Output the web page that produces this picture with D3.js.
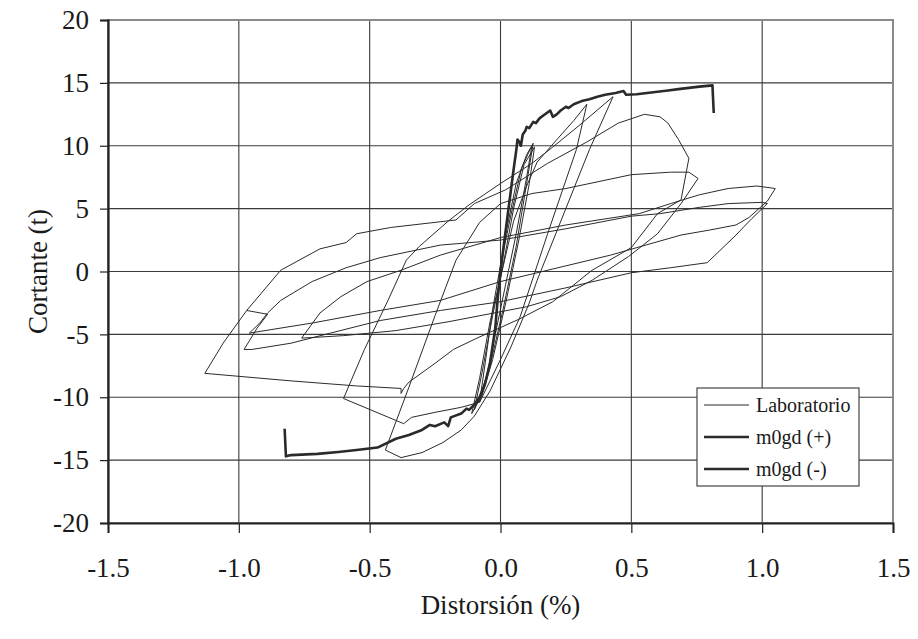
<!DOCTYPE html>
<html>
<head>
    <meta charset="utf-8">
    <title>Cortante vs Distorsión</title>
    <script src="https://d3js.org/d3.v7.min.js"></script>
</head>
<style>
    body {
        margin: 0;
        background: #fff;
    }

    svg {
        display: block;
    }

    text {
        font-family: "Liberation Serif", "Times New Roman", serif;
        fill: #1a1a1a;
    }
</style>
<body>
    <svg width="918" height="639"></svg>

    <script>
        // axis ticks
        const xTicks = [-1.5, -1.0, -0.5, 0.0, 0.5, 1.0, 1.5];
        const yTicks = [-20, -15, -10, -5, 0, 5, 10, 15, 20];

        // Laboratorio: [distorsion %, cortante t]
        const labData = [
            [0, 0], [0.02, 3], [0.06, 7], [0.1, 9.3], [0.12, 10], [0.1, 7.5], [0.06, 3], [0.02, -1],
            [-0.02, -5], [-0.06, -9], [-0.08, -10.4], [-0.06, -7.5], [-0.03, -3], [0, 0.5],
            [0.04, 4.5], [0.08, 8.2], [0.115, 9.8], [0.125, 10.2], [0.1, 7], [0.06, 2], [0.01, -3],
            [-0.04, -7.5], [-0.08, -10], [-0.1, -11], [-0.07, -8], [-0.03, -3.5], [0.01, 0.5],
            [0.05, 5], [0.09, 8.5], [0.13, 9.9], [0.11, 7], [0.07, 2.5], [0.02, -2.5], [-0.03, -7],
            [-0.07, -9.8], [-0.11, -11.3], [-0.08, -8.5], [-0.04, -4], [0, -0.5],
            [0.05, 4], [0.1, 6.8], [0.14, 8.7], [0.22, 10.6], [0.28, 12], [0.33, 13.3],
            [0.29, 9.7], [0.18, 3], [0.075, -3.6], [0, -7], [-0.08, -10.4], [-0.15, -10.8],
            [-0.25, -11.2], [-0.34, -11.6], [-0.37, -12.1], [-0.6, -10.1],
            [-0.52, -6.2], [-0.43, -2.3], [-0.36, 0.9], [-0.31, 2.0], [-0.2, 4.0], [-0.12, 5.3],
            [0, 7.0], [0.12, 8.6], [0.2, 9.9], [0.3, 11.6], [0.43, 13.9],
            [0.34, 9.7], [0.24, 4.5], [0.14, -0.7], [0.11, -2.5], [0.04, -6], [-0.04, -9.5],
            [-0.1, -11.5], [-0.15, -12.6], [-0.22, -13.6], [-0.3, -14.4], [-0.38, -14.8], [-0.44, -14.2],
            [-0.35, -9.2], [-0.25, -3.5], [-0.17, 0.9], [-0.08, 3.9], [0, 5.4], [0.12, 6.2],
            [0.25, 6.6], [0.5, 7.7], [0.65, 7.9], [0.72, 7.9], [0.755, 7.4],
            [0.69, 5.4], [0.6, 3.0], [0.49, 1.2], [0.35, -0.7], [0.23, -2.0], [0.1, -2.8], [0, -3.2],
            [-0.2, -4.0], [-0.4, -4.7], [-0.6, -5.1], [-0.76, -5.3],
            [-0.69, -3.3], [-0.61, -2.0], [-0.51, -0.8], [-0.38, 0.1], [-0.23, 1.3], [0, 2.7],
            [0.25, 3.7], [0.53, 4.6], [0.65, 5.4], [0.76, 6.1], [0.87, 6.6], [0.98, 6.8], [1.05, 6.6],
            [1.02, 5.6], [0.95, 4.3], [0.9, 3.7], [0.8, 3.3], [0.69, 2.9], [0.42, 1.3], [0.2, 0.2],
            [0, -0.8], [-0.23, -2.3], [-0.46, -3.1], [-0.72, -4.1], [-0.96, -4.9],
            [-0.92, -4.1], [-0.89, -3.3], [-0.84, -2.3], [-0.72, -0.8], [-0.59, 0.3], [-0.46, 1.1],
            [-0.23, 2.1], [0, 2.5], [0.25, 3.4], [0.5, 4.4], [0.61, 4.6], [0.76, 5.1], [0.87, 5.4],
            [1.0, 5.5], [1.02, 5.4],
            [0.96, 4.2], [0.9, 2.9], [0.79, 0.7], [0.65, 0.3], [0.5, -0.1], [0.25, -1.3], [0, -2.4],
            [-0.23, -3.1], [-0.46, -3.9], [-0.65, -4.9], [-0.8, -5.7], [-0.95, -6.2], [-0.98, -6.2],
            [-0.93, -4.5], [-0.89, -3.4], [-0.97, -3.1],
            [-1.06, -5.7], [-1.13, -8.1], [-0.8, -8.7], [-0.55, -9.1], [-0.38, -9.3], [-0.38, -9.7],
            [-0.37, -9.3], [-0.35, -8.8], [-0.25, -7.3], [-0.18, -6.2], [-0.09, -5.3], [0.07, -3.8],
            [0.2, -2.4], [0.35, 0.1], [0.5, 1.9], [0.6, 4.6], [0.69, 5.7], [0.72, 9], [0.68, 10.5],
            [0.64, 11.8], [0.61, 12.3], [0.55, 12.5], [0.45, 11.8], [0.33, 10.3], [0.18, 8.6],
            [0.02, 6.5], [-0.1, 5.4], [-0.17, 4.1], [-0.42, 3.5], [-0.55, 3.0], [-0.59, 2.3],
            [-0.69, 1.8], [-0.84, 0.1], [-0.97, -3.1]
        ];

        // m0gd (+)
        const mPos = [
            [0, 0], [0.012, 2], [0.025, 4.1], [0.04, 6.5], [0.05, 8.1], [0.06, 9.6], [0.065, 10.5],
            [0.072, 10.3], [0.078, 10.0], [0.085, 10.9], [0.095, 11.2], [0.1, 11.5], [0.11, 11.4],
            [0.125, 11.9], [0.135, 11.8], [0.15, 12.2], [0.17, 12.5], [0.19, 12.8], [0.2, 12.3],
            [0.215, 12.5], [0.23, 12.8], [0.25, 13.1], [0.26, 13.0], [0.28, 13.3], [0.31, 13.55],
            [0.34, 13.7], [0.37, 13.9], [0.4, 14.05], [0.44, 14.2], [0.47, 14.35], [0.48, 14.05],
            [0.52, 14.1], [0.56, 14.2], [0.6, 14.3], [0.64, 14.4], [0.68, 14.5], [0.72, 14.6],
            [0.76, 14.7], [0.81, 14.8], [0.815, 12.6]
        ];

        // m0gd (-)
        const mNeg = [
            [0, 0], [-0.01, -2], [-0.02, -4.5], [-0.04, -7.3], [-0.06, -9], [-0.08, -10],
            [-0.1, -10.6], [-0.12, -11], [-0.13, -10.9], [-0.15, -11.3], [-0.19, -11.6],
            [-0.2, -12.3], [-0.215, -12.0], [-0.25, -12.3], [-0.27, -12.2], [-0.3, -12.6],
            [-0.35, -13.0], [-0.4, -13.3], [-0.47, -14.0], [-0.55, -14.2], [-0.62, -14.35],
            [-0.7, -14.5], [-0.8, -14.6], [-0.82, -14.7], [-0.825, -12.5]
        ];

        const legendItems = [
            { label: "Laboratorio", width: 1 },
            { label: "m0gd (+)", width: 2.6 },
            { label: "m0gd (-)", width: 2.6 }
        ];

        const margin = { top: 20, right: 25, bottom: 116, left: 108 };
        const width = 918 - margin.left - margin.right;
        const height = 639 - margin.top - margin.bottom;

        const svg = d3.select("svg")
            .append("g")
            .attr("transform", `translate(${margin.left},${margin.top})`);

        const xScale = d3.scaleLinear().domain([-1.5, 1.5]).range([0, width]);
        const yScale = d3.scaleLinear().domain([-20, 20]).range([height, 0]);

        // grid
        svg.append("g")
            .selectAll("line")
            .data(xTicks)
            .enter()
            .append("line")
            .attr("x1", d => xScale(d)).attr("x2", d => xScale(d))
            .attr("y1", 0).attr("y2", height)
            .attr("stroke", "#3a3a3a").attr("stroke-width", 1.1);

        svg.append("g")
            .selectAll("line")
            .data(yTicks)
            .enter()
            .append("line")
            .attr("x1", 0).attr("x2", width)
            .attr("y1", d => yScale(d)).attr("y2", d => yScale(d))
            .attr("stroke", "#3a3a3a").attr("stroke-width", 1.1);

        // plot border
        svg.append("rect")
            .attr("width", width).attr("height", height)
            .attr("fill", "none")
            .attr("stroke", "#8a8a8a").attr("stroke-width", 2);

        // axes (plain hyphen for negatives, like the original)
        const xAxis = d3.axisBottom(xScale)
            .tickValues(xTicks)
            .tickSize(10)
            .tickFormat(d => d.toFixed(1));
        const gx = svg.append("g")
            .attr("transform", `translate(0,${height})`)
            .call(xAxis);
        gx.select(".domain").attr("stroke", "#222").attr("stroke-width", 2);
        gx.selectAll(".tick line").attr("stroke", "#222").attr("stroke-width", 1.2);
        gx.selectAll(".tick text")
            .attr("y", 54)
            .attr("dy", 0)
            .style("font-size", "27px")
            .style("font-family", "'Liberation Serif', serif")
            .attr("fill", "#1a1a1a");

        const yAxis = d3.axisLeft(yScale)
            .tickValues(yTicks)
            .tickSize(8)
            .tickFormat(d => String(d));
        const gy = svg.append("g").call(yAxis);
        gy.select(".domain").attr("stroke", "#222").attr("stroke-width", 2.2);
        gy.selectAll(".tick line").attr("stroke", "#222").attr("stroke-width", 1.2);
        gy.selectAll(".tick text")
            .attr("x", -19)
            .style("font-size", "27px")
            .style("font-family", "'Liberation Serif', serif")
            .attr("fill", "#1a1a1a");

        // series
        const line = d3.line()
            .x(d => xScale(d[0]))
            .y(d => yScale(d[1]));

        svg.append("path")
            .datum(labData)
            .attr("d", line)
            .attr("fill", "none")
            .attr("stroke", "#2b2b2b")
            .attr("stroke-width", 1)
            .attr("stroke-linejoin", "round");

        [mPos, mNeg].forEach(s => {
            svg.append("path")
                .datum(s)
                .attr("d", line)
                .attr("fill", "none")
                .attr("stroke", "#2a2a2a")
                .attr("stroke-width", 2.6)
                .attr("stroke-linejoin", "round");
        });

        // legend
        const legend = svg.append("g")
            .attr("transform", `translate(${589},${368})`);
        legend.append("rect")
            .attr("width", 162).attr("height", 98)
            .attr("fill", "#fff")
            .attr("stroke", "#444").attr("stroke-width", 1.2);
        legendItems.forEach((d, i) => {
            const yy = 17 + i * 32;
            legend.append("line")
                .attr("x1", 7).attr("x2", 52)
                .attr("y1", yy).attr("y2", yy)
                .attr("stroke", "#2a2a2a")
                .attr("stroke-width", d.width);
            legend.append("text")
                .attr("x", 59).attr("y", yy)
                .attr("dy", "0.35em")
                .style("font-size", "20px")
                .text(d.label);
        });

        // axis titles
        svg.append("text")
            .attr("x", xScale(0))
            .attr("y", height + 82)
            .attr("text-anchor", "middle")
            .attr("dy", "0.35em")
            .style("font-size", "27px")
            .text("Distorsión (%)");

        svg.append("text")
            .attr("transform", `translate(${38 - margin.left},${yScale(0)}) rotate(-90)`)
            .attr("text-anchor", "middle")
            .attr("dy", "0.35em")
            .style("font-size", "27px")
            .text("Cortante (t)");
    </script>
</body>
</html>
